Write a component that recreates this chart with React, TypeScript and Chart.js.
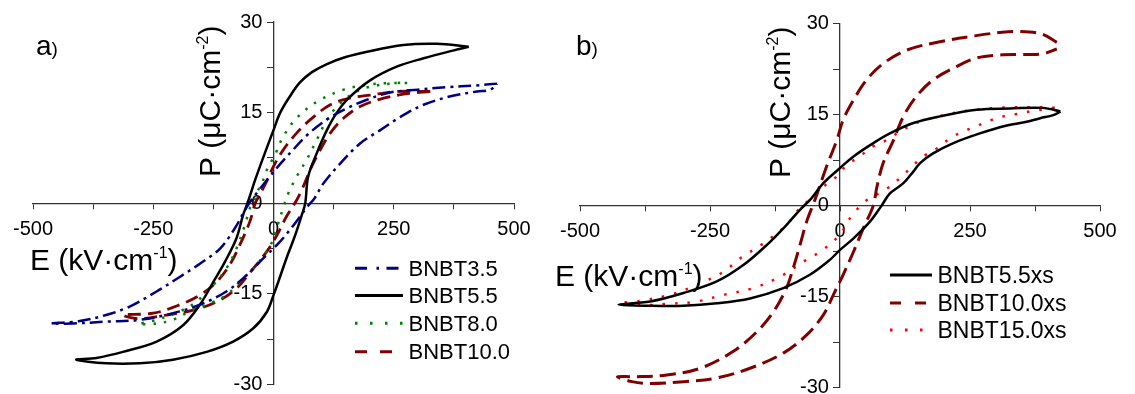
import React, { useEffect, useRef } from 'react';
import { Chart, registerables } from 'chart.js';

Chart.register(...registerables);

const FONT = '"Liberation Sans", Arial, sans-serif';

// ---------- axis ticks ----------
const xLabelTicks = [-500, -250, 0, 250, 500];
const yLabelTicks = [-30, -15, 0, 15, 30];

// ---------- panel a: E (kV/cm) and P (uC/cm2) loops ----------
const bnbt35E = [465, 420, 360, 300, 240, 190, 150, 110, 70, 40, 15, -10, -30, -48, -60, -80, -111, -153, -195, -243, -299, -348, -403, -462,
  -417, -348, -278, -209, -153, -98, -56, -21, 13, 45, 70, 85, 104, 139, 180, 222, 264, 312, 368, 423, 451, 465];
const bnbt35P = [19.8, 19.5, 19.2, 18.8, 18.3, 17.0, 15.6, 13.8, 11.3, 8.8, 6.6, 4.2, 2.2, 0.3, -1.2, -4.1, -7.5, -10, -12.2, -14.6, -17.1, -18.5, -19.5, -19.9,
  -19.9, -19.6, -19.3, -18.2, -16.8, -14.6, -11.9, -9.1, -6.4, -3.3, -0.6, 0.8, 3.3, 6.6, 9.9, 12.1, 14.3, 16.3, 17.7, 18.5, 18.8, 19.8];

const bnbt55E = [406, 340, 270, 190, 150, 110, 80, 55, 35, 14, 0, -18, -38, -52, -63, -77, -101, -125, -153, -188, -243, -313, -368, -410,
  -348, -278, -209, -139, -84, -42, -14, 0, 10, 27, 45, 59, 66, 72, 90, 111, 130, 155, 200, 256, 312, 375, 406];
const bnbt55P = [25.9, 26.4, 26.2, 25.0, 24.2, 23.0, 21.7, 20.0, 17.8, 15.0, 12.1, 8.3, 3.9, 0.5, -1.9, -5.8, -9.7, -13, -16.8, -20.2, -22.9, -24.6, -25.6, -25.9,
  -26.5, -26.5, -25.9, -24.6, -22.9, -20.7, -18, -15.2, -13, -9.1, -5.3, -1.9, 0, 4.4, 8.3, 12.1, 14.8, 17.3, 20.3, 22.6, 24, 25.3, 25.9];

const bnbt80E = [278, 240, 194, 146, 90, 48, 20, 3, -14, -24, -35, -42, -49, -59, -77, -98, -125, -160, -195, -243, -281,
  -243, -209, -174, -132, -98, -70, -42, -14, 0, 10, 20, 30, 48, 69, 90, 111, 132, 166, 201, 256, 278];
const bnbt80P = [19.9, 19.9, 19.6, 18.8, 16.8, 14.1, 11, 8, 5.5, 3.3, 1.7, 0, -0.8, -3.5, -7.5, -10.8, -13.5, -16.3, -17.9, -19.3, -20,
  -19.9, -19.3, -17.9, -16.6, -15.2, -13, -10.8, -8, -5.8, -3.3, -0.8, 1.5, 4.4, 7.2, 10.5, 13.8, 16, 18.2, 19.3, 19.9, 19.9];

const bnbt100E = [326, 256, 201, 159, 118, 76, 48, 20, 0, -15, -30, -38, -49, -70, -91, -118, -153, -195, -250, -313,
  -278, -222, -167, -118, -77, -42, -14, 7, 27, 48, 62, 76, 97, 118, 146, 180, 229, 284, 326];
const bnbt100P = [18.5, 18.5, 17.9, 17.4, 16.3, 13.8, 11.6, 8.8, 6.1, 3.5, 1.2, 0, -3, -6.9, -10.2, -13, -15.2, -16.8, -18.2, -18.5,
  -19.1, -18.5, -17.7, -16.3, -14.1, -10.8, -8, -5.3, -2.2, 0.5, 2.8, 5.5, 8.8, 11.6, 14.1, 16, 17.4, 18.2, 18.5];

// ---------- panel b ----------
const xs55E = [424, 390, 327, 263, 192, 141, 96, 64, 26, 0, -32, -55, -77, -103, -141, -186, -237, -301, -365, -426,
  -365, -301, -237, -173, -109, -58, -19, 0, 26, 58, 80, 96, 122, 141, 154, 179, 218, 269, 321, 359, 385, 410, 424];
const xs55P = [15.5, 16.1, 16.0, 15.8, 14.7, 13.6, 11.9, 10.3, 8.1, 6.2, 3.7, 1.2, -0.7, -3.2, -6.5, -9.8, -12.5, -14.4, -15.8, -16.3,
  -16.5, -16.5, -16.1, -15.3, -13.6, -11.4, -8.9, -7.3, -5.4, -2.6, 0, 2, 3.7, 5.6, 7, 8.6, 10.3, 11.9, 13.2, 13.8, 14.4, 14.9, 15.5];

const xs100E = [417, 387, 342, 306, 262, 192, 128, 83, 51, 26, 6, -6, -26, -48, -64, -77, -90, -103, -128, -160, -205, -269, -333, -397, -428,
  -400, -365, -301, -237, -173, -109, -64, -32, -10, 6, 26, 45, 64, 71, 83, 103, 122, 147, 179, 224, 262, 304, 350, 389, 417];
const xs100P = [26.9, 28.3, 28.7, 28.5, 28, 27, 25.6, 23.4, 20.7, 17.4, 14.1, 10.8, 6.4, 1, -2.6, -6.5, -10.3, -13.6, -17.5, -20.8, -24, -26.8, -27.9, -28.2, -28.2,
  -29.0, -29.3, -29, -28.4, -26.8, -24.3, -21.3, -18, -14.2, -11.4, -7.6, -3.7, 0, 3.1, 7, 10.8, 14.7, 18, 20.7, 22.9, 24.3, 24.8, 24.9, 25, 25.8];

const xs150E = [413, 388, 340, 300, 250, 200, 150, 115, 90, 64, 38, 13, -6, -32, -51, -77, -103, -147, -192, -224, -276, -327, -385, -423,
  -378, -333, -276, -224, -167, -115, -64, -38, 0, 13, 26, 50, 87, 115, 138, 160, 186, 212, 237, 263, 288, 314, 340, 365, 388, 413];
const xs150P = [16.1, 16.2, 16.2, 16.1, 15.7, 14.9, 13.7, 12.2, 10.8, 9.8, 8.1, 6.7, 4.8, 3.1, 1.5, -0.4, -3.2, -6.2, -8.7, -10.9, -13.1, -14.7, -15.7, -16.1,
  -16.4, -16.2, -15.8, -14.7, -13.6, -11.7, -8.9, -7.6, -4.8, -2.9, -1.3, 0.8, 2.6, 4.5, 6.4, 8.1, 9.4, 11.1, 12.2, 13.1, 14, 14.7, 15.1, 15.5, 15.8, 16.1];

const seriesA = [
  { label: 'BNBT3.5', E: bnbt35E, P: bnbt35P, color: '#000080', dash: [13, 5, 3, 5], width: 2.5 },
  { label: 'BNBT5.5', E: bnbt55E, P: bnbt55P, color: '#000000', dash: [], width: 2.5 },
  { label: 'BNBT8.0', E: bnbt80E, P: bnbt80P, color: '#008000', dash: [2.5, 8], width: 2.5 },
  { label: 'BNBT10.0', E: bnbt100E, P: bnbt100P, color: '#800000', dash: [13, 7], width: 2.8 },
];
const seriesB = [
  { label: 'BNBT5.5xs', E: xs55E, P: xs55P, color: '#000000', dash: [], width: 2.5 },
  { label: 'BNBT10.0xs', E: xs100E, P: xs100P, color: '#800000', dash: [16, 7], width: 3 },
  { label: 'BNBT15.0xs', E: xs150E, P: xs150P, color: '#FF0000', dash: [2.5, 10], width: 2.5 },
];

type Seg = { t: string; size: number; rise?: number };
type TextItem = { x: number; y: number; rot?: boolean; segs: Seg[] };
type LegendItem = { x1: number; x2: number; y: number; color: string; dash: number[]; width: number; label: string; tx: number; size: number };

function drawRich(ctx: CanvasRenderingContext2D, item: TextItem, ox: number) {
  ctx.save();
  ctx.translate(item.x - ox, item.y);
  if (item.rot) ctx.rotate(-Math.PI / 2);
  ctx.fillStyle = '#000';
  ctx.textBaseline = 'alphabetic';
  ctx.textAlign = 'left';
  let cx = 0;
  for (const s of item.segs) {
    ctx.font = `${s.size}px ${FONT}`;
    ctx.fillText(s.t, cx, -(s.rise || 0));
    cx += ctx.measureText(s.t).width;
  }
  ctx.restore();
}

function makePlugin(texts: TextItem[], legend: LegendItem[], ox: number) {
  return {
    id: 'annot',
    afterDraw(chart: any) {
      const ctx: CanvasRenderingContext2D = chart.ctx;
      texts.forEach((t) => drawRich(ctx, t, ox));
      legend.forEach((l) => {
        ctx.save();
        ctx.strokeStyle = l.color;
        ctx.lineWidth = l.width;
        ctx.setLineDash(l.dash);
        ctx.beginPath();
        ctx.moveTo(l.x1 - ox, l.y);
        ctx.lineTo(l.x2 - ox, l.y);
        ctx.stroke();
        ctx.restore();
        ctx.save();
        ctx.fillStyle = '#000';
        ctx.font = `${l.size}px ${FONT}`;
        ctx.textBaseline = 'alphabetic';
        ctx.fillText(l.label, l.tx - ox, l.y + 7.5);
        ctx.restore();
      });
    },
  };
}

function axisScales() {
  const tickFont = { family: FONT, size: 20, lineHeight: 1.2 };
  return {
    x: {
      type: 'linear',
      min: -500,
      max: 500,
      position: { y: 0 },
      ticks: {
        stepSize: 125,
        autoSkip: false,
        maxRotation: 0,
        color: '#000',
        font: tickFont,
        padding: 9,
        callback: (v: number) => (xLabelTicks.includes(v) ? String(v) : ''),
      },
      grid: { drawOnChartArea: false, drawTicks: true, tickLength: 5, color: '#333', lineWidth: 1 },
      border: { display: true, color: '#333', width: 1.3 },
    },
    y: {
      type: 'linear',
      min: -30,
      max: 30,
      position: { x: 0 },
      ticks: {
        stepSize: 7.5,
        autoSkip: false,
        color: '#000',
        font: tickFont,
        padding: 4,
        // trailing spaces keep the labels clear of the centred axis line
        callback: (v: number) => (yLabelTicks.includes(v) ? String(v) + '\u00a0\u00a0' : ''),
      },
      grid: { drawOnChartArea: false, drawTicks: true, tickLength: 6, color: '#333', lineWidth: 1 },
      border: { display: true, color: '#333', width: 1.3 },
    },
  };
}

type PanelProps = {
  left: number;
  width: number;
  height: number;
  padding: { left: number; right: number; top: number; bottom: number };
  series: typeof seriesA;
  texts: TextItem[];
  legend: LegendItem[];
};

function Panel({ left, width, height, padding, series, texts, legend }: PanelProps) {
  const ref = useRef<HTMLCanvasElement | null>(null);
  useEffect(() => {
    if (!ref.current) return;
    const datasets = series.map((s) => ({
      label: s.label,
      data: s.E.map((e, i) => ({ x: e, y: s.P[i] })),
      showLine: true,
      borderColor: s.color,
      backgroundColor: s.color,
      borderWidth: s.width,
      borderDash: s.dash,
      pointRadius: 0,
      tension: 0.35,
      fill: false,
    }));
    const chart = new Chart(ref.current, {
      type: 'scatter',
      data: { datasets },
      options: {
        responsive: false,
        animation: false,
        events: [],
        layout: { padding },
        plugins: { legend: { display: false }, tooltip: { enabled: false } },
        scales: axisScales() as any,
      },
      plugins: [makePlugin(texts, legend, left)],
    } as any);
    return () => chart.destroy();
  }, []);
  return (
    <canvas
      ref={ref}
      width={width}
      height={height}
      style={{ position: 'absolute', left, top: 0, width, height }}
    />
  );
}

const sup = (main: string, s: string, tail: string): Seg[] => [
  { t: main, size: 30 },
  { t: s, size: 16, rise: 12 },
  { t: tail, size: 30 },
];

const textsA: TextItem[] = [
  { x: 36, y: 54.5, segs: [{ t: 'a', size: 28 }, { t: ')', size: 19 }] },
  { x: 220, y: 177, rot: true, segs: sup('P (\u03bcC\u00b7cm', '-2', ')') },
  { x: 30, y: 270, segs: sup('E (kV\u00b7cm', '-1', ')') },
];
const textsB: TextItem[] = [
  { x: 576, y: 54.5, segs: [{ t: 'b', size: 28 }, { t: ')', size: 19 }] },
  { x: 790, y: 178, rot: true, segs: sup('P (\u03bcC\u00b7cm', '-2', ')') },
  { x: 555, y: 285.5, segs: sup('E (kV\u00b7cm', '-1', ')') },
];

const legendA: LegendItem[] = [
  { x1: 355, x2: 402, y: 268.3, color: '#000080', dash: [12, 9.5, 2.5, 7.5], width: 3, label: 'BNBT3.5', tx: 408.5, size: 22 },
  { x1: 355, x2: 403, y: 295.5, color: '#000000', dash: [], width: 3, label: 'BNBT5.5', tx: 408.5, size: 22 },
  { x1: 355, x2: 403, y: 323.3, color: '#008000', dash: [2.5, 12.5], width: 3, label: 'BNBT8.0', tx: 408.5, size: 22 },
  { x1: 355, x2: 392, y: 351.7, color: '#800000', dash: [12, 13], width: 3, label: 'BNBT10.0', tx: 408.5, size: 22 },
];
const legendB: LegendItem[] = [
  { x1: 890, x2: 932, y: 275, color: '#000000', dash: [], width: 3, label: 'BNBT5.5xs', tx: 937.5, size: 23 },
  { x1: 890, x2: 927, y: 303, color: '#800000', dash: [11, 14], width: 3, label: 'BNBT10.0xs', tx: 937.5, size: 23 },
  { x1: 890, x2: 923, y: 330, color: '#FF0000', dash: [2.5, 12.5], width: 3, label: 'BNBT15.0xs', tx: 937.5, size: 23 },
];

export default function App() {
  return (
    <div
      style={{
        position: 'fixed',
        left: 0,
        top: 0,
        width: 1135,
        height: 394,
        overflow: 'hidden',
        background: '#fff',
      }}
    >
      <Panel
        left={0}
        width={560}
        height={430}
        padding={{ left: 33, right: 46, top: 22, bottom: 45.5 }}
        series={seriesA}
        texts={textsA}
        legend={legendA}
      />
      <Panel
        left={540}
        width={595}
        height={430}
        padding={{ left: 40, right: 35, top: 23.5, bottom: 42.3 }}
        series={seriesB}
        texts={textsB}
        legend={legendB}
      />
    </div>
  );
}
